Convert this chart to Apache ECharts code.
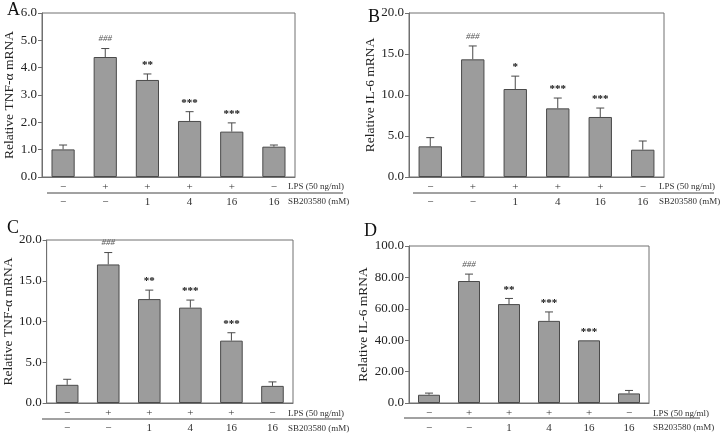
<!DOCTYPE html>
<html><head><meta charset="utf-8">
<script src="https://cdn.jsdelivr.net/npm/echarts@6/dist/echarts.min.js"></script>
<style>html,body{margin:0;padding:0;background:#fff}#c{width:722px;height:434px}</style>
</head><body><div id="c"></div>
<script>
const categories = ['g1','g2','g3','g4','g5','g6'];
const lpsRow = ['−','+','+','+','+','−'];
const sbRow = ['−','−','1','4','16','16'];

const tnfA = [1.01, 4.39, 3.55, 2.05, 1.66, 1.11];
const tnfAErr = [1.17, 4.70, 3.77, 2.39, 1.98, 1.17];
const sigA = ['', '###', '**', '***', '***', ''];

const il6B = [3.74, 14.35, 10.73, 8.37, 7.32, 3.33];
const il6BErr = [4.80, 15.98, 12.30, 9.63, 8.41, 4.39];
const sigB = ['', '###', '*', '***', '***', ''];

const tnfC = [2.23, 17.0, 12.75, 11.7, 7.65, 2.1];
const tnfCErr = [2.91, 18.46, 13.85, 12.63, 8.62, 2.59];
const sigC = ['', '###', '**', '***', '***', ''];

const il6D = [5.25, 77.7, 63.0, 52.3, 39.9, 6.1];
const il6DErr = [6.3, 82.1, 66.6, 58.0, null, 8.0];
const sigD = ['', '###', '**', '***', '***', ''];

const yTicksA = ['0.0','1.0','2.0','3.0','4.0','5.0','6.0'];
const yTicksB = ['0.0','5.0','10.0','15.0','20.0'];
const yTicksC = ['0.0','5.0','10.0','15.0','20.0'];
const yTicksD = ['0.0','20.00','40.00','60.00','80.00','100.0'];

const FONT = '"Liberation Serif", "Times New Roman", serif';

const panels = [
  {letter:'A', grid:{left:42,right:427,top:13,bottom:257}, max:6, interval:1, ticks:yTicksA, name:'Relative TNF-α mRNA', nameGap:23, vals:tnfA, errs:tnfAErr, sig:sigA},
  {letter:'B', grid:{left:409,right:58,top:13,bottom:257}, max:20, interval:5, ticks:yTicksB, name:'Relative IL-6 mRNA', nameGap:29, vals:il6B, errs:il6BErr, sig:sigB},
  {letter:'C', grid:{left:41,right:429,top:240,bottom:30}, max:20, interval:5, ticks:yTicksC, name:'Relative TNF-α mRNA', nameGap:23, vals:tnfC, errs:tnfCErr, sig:sigC},
  {letter:'D', grid:{left:409,right:73,top:246,bottom:30}, max:100, interval:20, ticks:yTicksD, name:'Relative IL-6 mRNA', nameGap:30, vals:il6D, errs:il6DErr, sig:sigD}
];

const grid = [], xAxis = [], yAxis = [], series = [];
panels.forEach((p, k) => {
  grid.push(Object.assign({show:true, borderColor:'#707070', borderWidth:1, backgroundColor:'transparent'}, p.grid));
  xAxis.push({
    type:'category', gridIndex:k, data:categories, boundaryGap:true,
    axisTick:{show:false},
    axisLine:{lineStyle:{color:'#707070'}},
    axisLabel:{
      interval:0, margin:3, fontFamily:FONT, color:'#333',
      formatter:(v, i) => '{a|' + lpsRow[i] + '}\n{b|' + sbRow[i] + '}',
      rich:{a:{fontSize:11, lineHeight:15, fontFamily:FONT, color:'#333'}, b:{fontSize:11, lineHeight:15, fontFamily:FONT, color:'#333'}}
    }
  });
  yAxis.push({
    type:'value', gridIndex:k, min:0, max:p.max, interval:p.interval,
    name:p.name, nameLocation:'middle', nameGap:p.nameGap, nameRotate:90,
    nameTextStyle:{fontFamily:FONT, fontSize:13.5, color:'#222'},
    axisLine:{show:true, lineStyle:{color:'#707070'}},
    axisTick:{show:true, length:4, lineStyle:{color:'#707070'}},
    splitLine:{show:false},
    axisLabel:{fontFamily:FONT, fontSize:13, color:'#222', margin:5,
      formatter:(v, i) => p.ticks[Math.round(v / p.interval)]}
  });
  series.push({
    type:'bar', xAxisIndex:k, yAxisIndex:k, data:p.vals, barWidth:'55%',
    itemStyle:{color:'#9c9c9c', borderColor:'#4a4a4a', borderWidth:1},
    silent:true, animation:false
  });
  series.push({
    type:'custom', xAxisIndex:k, yAxisIndex:k, animation:false, silent:true,
    data:p.vals.map((v, i) => [i, v, p.errs[i] == null ? v : p.errs[i]]),
    renderItem:(params, api) => {
      const x = api.value(0), v = api.value(1), e = api.value(2);
      const p0 = api.coord([x, v]), p1 = api.coord([x, e]);
      const children = [];
      if (e > v) {
        children.push({type:'line', shape:{x1:p0[0], y1:p0[1], x2:p1[0], y2:p1[1]}, style:{stroke:'#4a4a4a', lineWidth:1}});
        children.push({type:'line', shape:{x1:p1[0]-4, y1:p1[1], x2:p1[0]+4, y2:p1[1]}, style:{stroke:'#4a4a4a', lineWidth:1}});
      }
      const s = p.sig[x];
      if (s) {
        const isHash = s.indexOf('#') >= 0;
        children.push({type:'text', x:p1[0], y:p1[1] - (isHash ? 5 : 3),
          style:{text:s, align:'center', verticalAlign:'bottom', fontFamily:FONT,
            fontSize:isHash ? 9 : 11, fontWeight:isHash ? 'normal' : 'bold',
            fontStyle:isHash ? 'italic' : 'normal', fill:isHash ? '#555' : '#111'}});
      }
      return {type:'group', children};
    }
  });
});

const graphic = [];
const rowLabels = [
  {lx:288, sx:288, y1:187, y2:202, line:[47,343,193]},
  {lx:659, sx:659, y1:187, y2:202, line:[413,714,193]},
  {lx:288, sx:288, y1:414, y2:429, line:[42,342,419]},
  {lx:653, sx:653, y1:414, y2:428, line:[404,700,418]}
];
const letters = [[7,8],[368,15],[7,226],[364,229]];
panels.forEach((p, k) => {
  const r = rowLabels[k];
  graphic.push({type:'text', left:r.lx, top:r.y1 - 5, style:{text:'LPS (50 ng/ml)', fontFamily:FONT, fontSize:9, fill:'#333'}});
  graphic.push({type:'text', left:r.sx, top:r.y2 - 5, style:{text:'SB203580 (mM)', fontFamily:FONT, fontSize:9, fill:'#333'}});
  graphic.push({type:'line', shape:{x1:r.line[0], y1:r.line[2], x2:r.line[1], y2:r.line[2]}, style:{stroke:'#444', lineWidth:1}});
  graphic.push({type:'text', left:letters[k][0], top:letters[k][1] - 7, style:{text:p.letter, fontFamily:FONT, fontSize:18, fill:'#111'}});
});

const chart = echarts.init(document.getElementById('c'), null, {renderer:'canvas'});
chart.setOption({animation:false, backgroundColor:'#fff', grid, xAxis, yAxis, series, graphic});
</script>
</body></html>
